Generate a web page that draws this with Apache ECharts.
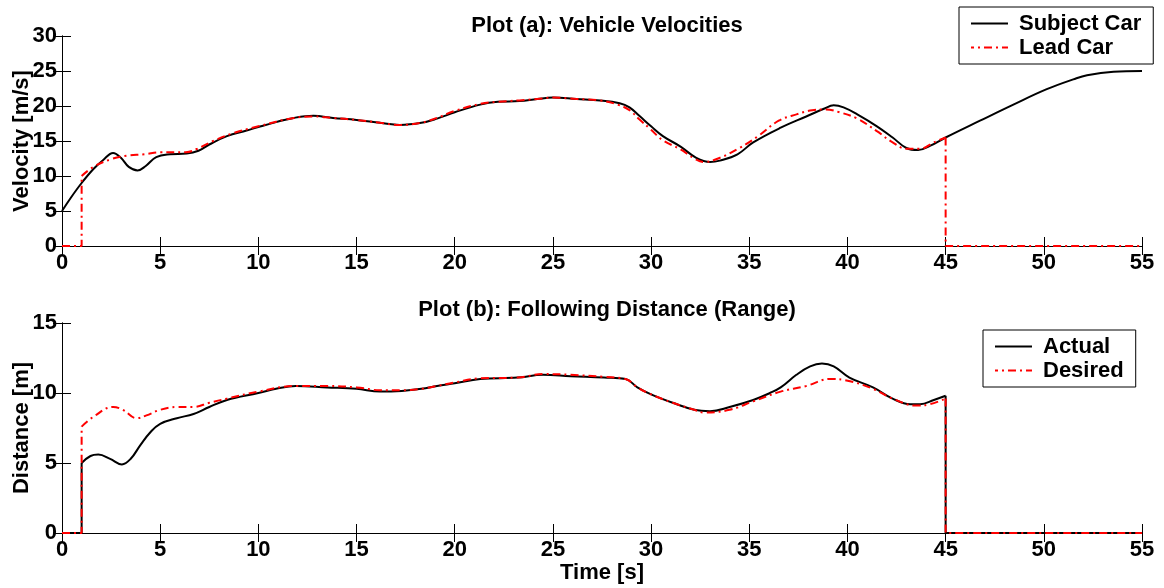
<!DOCTYPE html>
<html>
<head>
<meta charset="utf-8">
<script src="https://cdn.jsdelivr.net/npm/echarts@6/dist/echarts.min.js"></script>
<style>
html,body{margin:0;padding:0;background:#fff;}
#chart{width:1164px;height:588px;}
</style>
</head>
<body>
<div id="chart"></div>
<script>
// ---- Plot (a): velocities ----
var subjectT = [0, 0.45, 1.0, 1.6, 2.1, 2.6, 3.0, 3.4, 3.85, 4.25, 4.8, 5.5, 6.35, 6.95, 7.5, 8.4, 9.4, 10, 10.9, 11.8, 12.8, 13.8, 15, 16.2, 17.2, 18.3, 19.1, 20, 21.3, 22.2, 23.3, 24.2, 25, 26.2, 27.4, 28.4, 28.9, 29.4, 30, 30.6, 31.5, 32.3, 33.0, 33.5, 34.4, 35.2, 36.6, 37.9, 38.8, 39.3, 39.8, 40.5, 41.5, 42.3, 43.0, 43.6, 44.2, 45, 46.75, 48.45, 50.15, 51.5, 52.2, 53.55, 55];
var subjectV = [5.0, 6.9, 9.0, 11.0, 12.3, 13.3, 12.6, 11.3, 10.8, 11.4, 12.7, 13.1, 13.2, 13.6, 14.5, 15.7, 16.5, 17.0, 17.7, 18.3, 18.6, 18.3, 18.0, 17.6, 17.3, 17.6, 18.2, 19.1, 20.2, 20.6, 20.7, 21.0, 21.2, 21.0, 20.8, 20.4, 19.8, 18.6, 17.1, 15.7, 14.2, 12.6, 12.0, 12.2, 13.1, 14.8, 16.9, 18.5, 19.6, 20.1, 19.8, 18.8, 17.1, 15.5, 14.0, 13.7, 14.3, 15.5, 17.9, 20.2, 22.4, 23.8, 24.4, 24.9, 25.0];
// lead car is only present from t=1 to t=45 (zero otherwise)
var leadT = [1.0, 1.6, 2.5, 3.3, 4.2, 5.0, 6.3, 6.9, 7.7, 8.7, 10, 11.8, 12.8, 13.8, 15, 16.2, 17.2, 18.3, 19.1, 20, 21.3, 22.2, 23.3, 24.2, 25, 26.2, 27.4, 28.3, 28.9, 29.4, 30.0, 30.6, 31.5, 32.2, 32.7, 33.5, 34.5, 35.5, 36.5, 37.4, 38.2, 38.9, 39.6, 40.5, 41.5, 42.3, 43.0, 43.7, 44.4, 45.0];
var leadV = [10.0, 11.3, 12.4, 12.9, 13.1, 13.4, 13.4, 13.9, 15.0, 16.1, 17.1, 18.3, 18.5, 18.3, 18.0, 17.6, 17.3, 17.6, 18.3, 19.3, 20.3, 20.6, 20.8, 21.0, 21.2, 21.0, 20.8, 20.2, 19.4, 18.1, 16.6, 15.1, 13.8, 12.5, 12.0, 12.6, 14.0, 15.8, 17.9, 18.8, 19.4, 19.5, 19.1, 18.2, 16.4, 14.8, 13.9, 13.9, 14.8, 15.5];
// ---- Plot (b): following distance (present from t=1 to t=45) ----
var actualT = [1.0, 1.45, 1.85, 2.45, 3.05, 3.5, 4.0, 4.5, 5, 5.85, 6.7, 7.5, 8.4, 10, 10.9, 11.9, 13.5, 15, 16.2, 17.3, 18.3, 19.1, 20, 21.3, 23.2, 24.5, 25.9, 27.6, 28.7, 29.3, 30, 31.1, 32.2, 33, 34, 35.2, 36.05, 36.6, 37.4, 38.1, 38.7, 39.3, 40.1, 41.3, 42.3, 43.2, 43.7, 44.4, 45.0];
var actualD = [5.0, 5.5, 5.6, 5.3, 4.9, 5.3, 6.3, 7.2, 7.8, 8.2, 8.5, 9.0, 9.5, 10.0, 10.3, 10.5, 10.4, 10.3, 10.1, 10.15, 10.3, 10.5, 10.7, 11.0, 11.1, 11.3, 11.2, 11.1, 11.0, 10.4, 9.9, 9.3, 8.8, 8.7, 9.0, 9.5, 10.0, 10.4, 11.3, 11.9, 12.1, 11.9, 11.1, 10.4, 9.6, 9.2, 9.2, 9.5, 9.8];
var desiredT = [1.0, 1.6, 2.6, 3.1, 3.8, 4.3, 5, 5.85, 6.7, 7.5, 8.4, 10, 11.9, 13.5, 15, 16.2, 17.3, 18.3, 19.1, 20, 21.3, 23.2, 24.5, 25.9, 27.6, 28.7, 29.3, 30, 31.1, 32.2, 32.7, 34, 35.2, 36.6, 37.9, 39.1, 39.95, 41.3, 42.3, 43.5, 44.2, 45.0];
var desiredD = [7.6, 8.3, 9.0, 8.8, 8.2, 8.4, 8.8, 9.0, 9.0, 9.3, 9.6, 10.1, 10.5, 10.5, 10.4, 10.2, 10.2, 10.3, 10.5, 10.75, 11.05, 11.1, 11.35, 11.3, 11.15, 11.0, 10.4, 9.9, 9.3, 8.8, 8.6, 8.8, 9.4, 10.1, 10.5, 11.0, 10.9, 10.3, 9.6, 9.1, 9.2, 9.6];

var tMin = 0, tMax = 55;
var titles = ['Plot (a): Vehicle Velocities', 'Plot (b): Following Distance (Range)'];
var names = ['Subject Car', 'Lead Car', 'Actual', 'Desired'];

function zip(a, b) { return a.map(function (t, i) { return [t, b[i]]; }); }
// zero segments before/after the active window, with the vertical jumps (drawn straight)
function edges(t, v) {
  var n = t.length - 1;
  return [[tMin, 0], [t[0], 0], [t[0], v[0]], '-', [t[n], v[n]], [t[n], 0], [tMax, 0]];
}

var FONT = 'Liberation Sans';
var FS = 22;
var lbl = { fontFamily: FONT, fontWeight: 'bold', fontSize: FS, color: '#000' };
var axLine = { show: true, lineStyle: { color: '#000', width: 1 } };
var tick = { show: true, inside: true, length: 9, lineStyle: { color: '#000', width: 1 } };

function xAx(grid, pos, show, name) {
  return {
    type: 'value', gridIndex: grid, position: pos, min: tMin, max: tMax, interval: 5,
    axisLine: axLine, axisTick: tick, splitLine: { show: false },
    axisLabel: Object.assign({ show: show, margin: 6 }, lbl),
    name: name || '', nameLocation: 'middle', nameGap: 29, nameMoveOverlap: false,
    nameTextStyle: lbl
  };
}
function yAx(grid, pos, max, show, name) {
  return {
    type: 'value', gridIndex: grid, position: pos, min: 0, max: max, interval: 5,
    axisLine: axLine, axisTick: tick, splitLine: { show: false },
    axisLabel: Object.assign({ show: show, margin: 5 }, lbl),
    name: name || '', nameLocation: 'middle', nameGap: 29, nameRotate: 90, nameMoveOverlap: false,
    nameTextStyle: lbl
  };
}

var solidIcon = 'path://M0,0L0.01,0M0,6H37V8H0ZM37,14L37.01,14';
var dashDotIcon = 'path://M0,0L0.01,0M0,6H3V8H0ZM7,6H9V8H7ZM13,6H21V8H13ZM25,6H27V8H25ZM31,6H37V8H31ZM37,14L37.01,14';

var dashDot = [8, 4, 2, 4];
var legText = { fontFamily: FONT, fontWeight: 'bold', fontSize: FS, color: '#000', lineHeight: 23, padding: [0, 0, 0, 6] };

function legend(items, left, top) {
  return {
    data: [{ name: items[0], icon: solidIcon }, { name: items[1], icon: dashDotIcon }],
    orient: 'vertical', left: left, top: top, z: 10,
    backgroundColor: '#fff', borderColor: '#000', borderWidth: 1, padding: [5, 12, 5, 12],
    itemWidth: 37, itemHeight: 14, itemGap: 1, textStyle: legText
  };
}

var black = { color: '#000', width: 2 };
var red = { color: '#ff0000', width: 2, type: dashDot };
function line(name, xi, data, ls, smooth, z) {
  return {
    name: name, type: 'line', xAxisIndex: xi, yAxisIndex: xi, data: data,
    showSymbol: false, symbol: 'none', smooth: smooth, connectNulls: false,
    lineStyle: ls, itemStyle: { color: ls.color }, z: z
  };
}

var option = {
  backgroundColor: '#fff',
  animation: false,
  title: [
    { text: titles[0], left: 602, top: 10, textAlign: 'center', textStyle: lbl },
    { text: titles[1], left: 602, top: 294, textAlign: 'center', textStyle: lbl }
  ],
  grid: [
    { left: 62, right: 22, top: 36, height: 210, containLabel: false, outerBoundsMode: 'none' },
    { left: 62, right: 22, top: 323, height: 210, containLabel: false, outerBoundsMode: 'none' }
  ],
  xAxis: [xAx(0, 'bottom', true), xAx(0, 'top', false), xAx(1, 'bottom', true, 'Time [s]'), xAx(1, 'top', false)],
  yAxis: [yAx(0, 'left', 30, true, 'Velocity [m/s]'), yAx(0, 'right', 30, false), yAx(1, 'left', 15, true, 'Distance [m]'), yAx(1, 'right', 15, false)],
  legend: [legend([names[0], names[1]], 959, 7), legend([names[2], names[3]], 983, 330)],
  series: [
    line(names[0], 0, zip(subjectT, subjectV), black, 0.4, 2),
    line(names[1], 0, zip(leadT, leadV), red, 0.4, 3),
    line(names[1], 0, edges(leadT, leadV), red, false, 3),
    line(names[2], 2, zip(actualT, actualD), black, 0.4, 2),
    line(names[2], 2, edges(actualT, actualD), black, false, 2),
    line(names[3], 2, zip(desiredT, desiredD), red, 0.4, 3),
    line(names[3], 2, edges(desiredT, desiredD), red, false, 3)
  ]
};

var chart = echarts.init(document.getElementById('chart'), null, { renderer: 'canvas' });
chart.setOption(option);
</script>
</body>
</html>
